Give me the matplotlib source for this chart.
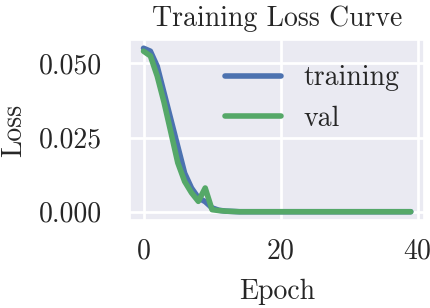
import matplotlib
matplotlib.use("Agg")
import matplotlib.pyplot as plt
import seaborn as sns

# loss per epoch
epochs = list(range(40))
train_loss = [0.0551, 0.0541, 0.0490, 0.0400, 0.0310, 0.0220, 0.0130, 0.0080,
              0.0047, 0.0034, 0.0013, 0.0005, 0.0002, 0.0001] + [0.0] * 26
val_loss = [0.0541, 0.0525, 0.0457, 0.0368, 0.0267, 0.0165, 0.0102, 0.0064,
            0.0035, 0.0080, 0.0007, 0.0004, 0.0002, 0.0001] + [0.0] * 26

sns.set_theme(style="darkgrid")
plt.rcParams['font.family'] = 'serif'
plt.rcParams['font.serif'] = ['cmr10']
plt.rcParams['axes.formatter.use_mathtext'] = True
plt.rcParams['font.size'] = 20

fig = plt.figure(figsize=(4.31, 3.08), dpi=100)
ax = fig.add_axes([0.302, 0.286, 0.682, 0.584])

ax.plot(epochs, train_loss, color='#4C72B0', lw=4, label='training', solid_capstyle='round')
ax.plot(epochs, val_loss, color='#55A868', lw=4, label='val', solid_capstyle='round')

ax.set_title('Training Loss Curve', fontsize=20, pad=10)
ax.set_xlabel('Epoch', fontsize=20, labelpad=10)
ax.set_ylabel('Loss', fontsize=20, labelpad=9)
ax.set_xticks([0, 20, 40])
ax.set_yticks([0.0, 0.025, 0.05])
ax.set_yticklabels(['0.000', '0.025', '0.050'])
ax.tick_params(axis='y', labelsize=20, pad=14)
ax.tick_params(axis='x', labelsize=20, pad=7)
ax.grid(True, color='white', lw=2)
ax.legend(loc='upper right', frameon=False, fontsize=20)

fig.savefig('out.png', dpi=100)
